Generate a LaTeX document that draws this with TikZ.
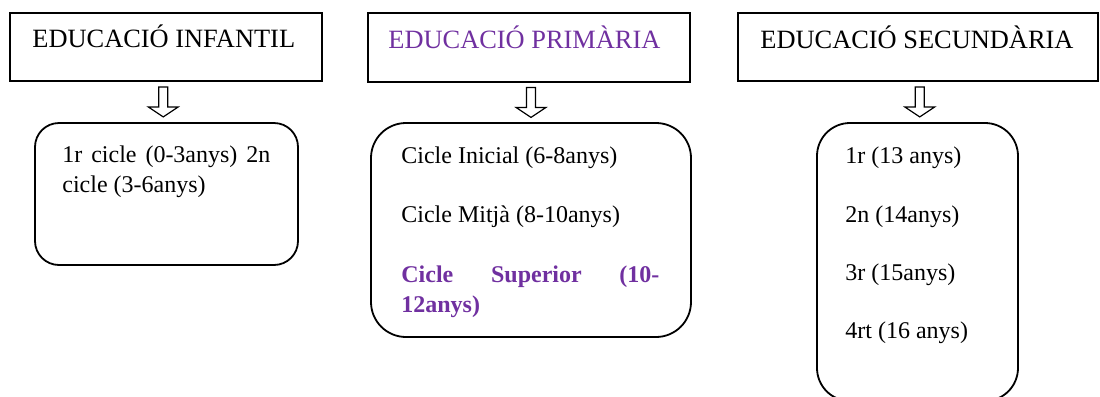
\documentclass[tikz,border=0pt]{standalone}
\usepackage{fontspec}
\setmainfont{Liberation Serif}
\usepackage{xcolor}
\usepackage{tikz}
\usetikzlibrary{calc}
\definecolor{eduPurple}{HTML}{7030A0}

\begin{document}
\begin{tikzpicture}[x=0.5pt,y=-0.5pt,
        hdrbox/.style={draw, line width=0.7pt, inner sep=0pt},
        roundbox/.style={draw, line width=0.9pt, inner sep=0pt},
        hdrtext/.style={anchor=base west, inner sep=0pt, font=\fontsize{13.2}{15}\selectfont},
        bodytext/.style={anchor=base west, inner sep=0pt, font=\fontsize{12}{14}\selectfont},
        downarrow/.pic={\draw[line width=0.6pt, line join=miter] (-4.5,-15) -- (4.5,-15) -- (4.5,5) -- (15,5) -- (0,15) -- (-15,5) -- (-4.5,5) -- cycle;}]
        \clip (0,0) rectangle (1100,397);

        % Educacio Infantil
        \node[hdrbox, minimum width=156pt, minimum height=34pt] (infH) at (166,47) {};
        \node[hdrtext] (infT) at (32,47) {EDUCACIÓ INFANTIL};
        \node[roundbox, rounded corners=12pt, minimum width=131.5pt, minimum height=71pt] (infB) at (166.5,194) {};
        \node[bodytext] (inf1) at (62,162) {\makebox[104pt][s]{1r cicle (0-3anys) 2n}};
        \node[bodytext] (inf2) at (62,192) {cicle (3-6anys)};

        % Educacio Primaria
        \node[hdrbox, minimum width=161pt, minimum height=34.5pt] (priH) at (529,47.5) {};
        \node[hdrtext, text=eduPurple] (priT) at (388,48) {EDUCACIÓ PRIMÀRIA};
        \node[roundbox, rounded corners=17.5pt, minimum width=160pt, minimum height=107pt] (priB) at (531,230) {};
        \node[bodytext] (pri1) at (401,163) {Cicle Inicial (6-8anys)};
        \node[bodytext] (pri2) at (401,222) {Cicle Mitjà (8-10anys)};
        \node[bodytext, text=eduPurple, font=\fontsize{12}{14}\selectfont\bfseries] (pri3) at (401,282) {\makebox[129pt][s]{Cicle Superior (10-}};
        \node[bodytext, text=eduPurple, font=\fontsize{12}{14}\selectfont\bfseries] (pri4) at (401,312) {12anys)};

        % Educacio Secundaria
        \node[hdrbox, minimum width=180pt, minimum height=34pt] (secH) at (918,47) {};
        \node[hdrtext] (secT) at (760,48) {EDUCACIÓ SECUNDÀRIA};
        \node[roundbox, rounded corners=16.5pt, minimum width=100.5pt, minimum height=139pt] (secB) at (917.5,262) {};
        \node[bodytext] (sec1) at (845,163) {1r (13 anys)};
        \node[bodytext] (sec2) at (845,222) {2n (14anys)};
        \node[bodytext] (sec3) at (845,280) {3r (15anys)};
        \node[bodytext] (sec4) at (845,338) {4rt (16 anys)};

        % hollow arrows
        \foreach \top/\bot/\dx in {infH/infB/-3, priH/priB/1, secH/secB/2}
            \pic at ($(\top.south)!0.5!(\bot.north)+(\dx,0)$) {downarrow};
\end{tikzpicture}
\end{document}
